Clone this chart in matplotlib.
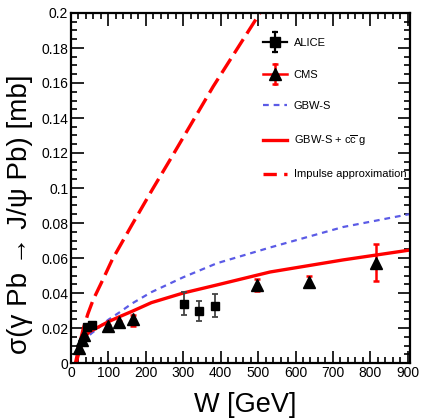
import matplotlib
matplotlib.use("Agg")
import matplotlib.pyplot as plt
from matplotlib.ticker import MultipleLocator, FuncFormatter
from matplotlib.lines import Line2D
from matplotlib.legend_handler import HandlerBase

plt.rcParams['font.family'] = ['Liberation Sans', 'DejaVu Sans']
plt.rcParams['mathtext.fontset'] = 'custom'
plt.rcParams['mathtext.rm'] = 'Liberation Sans'
plt.rcParams['mathtext.it'] = 'Liberation Sans:italic'

# ALICE data
alice_W = [44, 55, 302, 342, 385]
alice_s = [0.0206, 0.0220, 0.0340, 0.0297, 0.0328]
alice_err = [0.0012, 0.0012, 0.0068, 0.0058, 0.0065]

# CMS data
cms_W = [21, 30, 35, 99, 128, 166, 497, 636, 815]
cms_s = [0.0086, 0.0130, 0.0160, 0.0210, 0.0232, 0.0250, 0.0443, 0.0463, 0.0570]
cms_err_lo = [0.0008, 0.0008, 0.0008, 0.0008, 0.0008, 0.0040, 0.0033, 0.0029, 0.0100]
cms_err_hi = [0.0008, 0.0008, 0.0008, 0.0008, 0.0008, 0.0025, 0.0037, 0.0034, 0.0110]

# GBW-S
gbw_W = [20, 30, 40, 55, 70, 99, 130, 163, 215, 300, 390, 532, 727, 920]
gbw_s = [0.006, 0.011, 0.014, 0.017, 0.0195, 0.0246, 0.029, 0.034, 0.0405, 0.049, 0.057, 0.066, 0.0777, 0.0857]

# GBW-S + c cbar g
ccg_W = [15, 25, 37, 50, 64, 99, 130, 163, 215, 300, 390, 532, 727, 920]
ccg_s = [0.001, 0.009, 0.015, 0.018, 0.0195, 0.0235, 0.0265, 0.0295, 0.0345, 0.040, 0.0446, 0.052, 0.0589, 0.065]

# Impulse approximation
ia_W = [12, 20, 32, 45, 59, 86, 110, 163, 217, 270, 380, 505, 560]
ia_s = [0.0, 0.008, 0.019, 0.028, 0.036, 0.048, 0.059, 0.079, 0.099, 0.118, 0.158, 0.200, 0.218]

legend_labels = ['ALICE', 'CMS', 'GBW-S', r'GBW-S + c$\overline{\mathrm{c}}$ g', 'Impulse approximation']


class ErrHandler(HandlerBase):
    def __init__(self, marker, ms, ecolor, lw):
        super().__init__()
        self.marker, self.ms, self.ecolor, self.lw = marker, ms, ecolor, lw

    def create_artists(self, legend, orig, xd, yd, w, h, fs, trans):
        cx = w / 2 - xd
        cy = h / 2 - yd
        half = 10 * 72 / 100.0  # points
        arts = [
            Line2D([-xd, w - xd], [cy, cy], color=self.ecolor, lw=self.lw),
            Line2D([cx, cx], [cy - half, cy + half], color=self.ecolor, lw=self.lw),
            Line2D([cx], [cy - half], marker='_', ms=5, mew=self.lw, color=self.ecolor),
            Line2D([cx], [cy + half], marker='_', ms=5, mew=self.lw, color=self.ecolor),
            Line2D([cx], [cy], marker=self.marker, ms=self.ms, color='black', ls='none'),
        ]
        for a in arts:
            a.set_transform(trans)
        return arts


fig = plt.figure(figsize=(4.21, 4.19), dpi=100)
ax = fig.add_axes([71/421, 1-363/419, (410-71)/421, 350/419])

ax.plot(ia_W, ia_s, color='#ff0000', lw=2.4, dashes=(5, 2), zorder=2)
ax.plot(gbw_W, gbw_s, color='#5b5be6', lw=1.6, dashes=(2.6, 2.2), zorder=2)
ax.plot(ccg_W, ccg_s, color='#ff0000', lw=2.4, zorder=2)

ax.errorbar(alice_W, alice_s, yerr=alice_err, fmt='s', color='black', ecolor='#444444',
            ms=6, elinewidth=1.3, capsize=2.5, capthick=1.3, zorder=4)
ax.errorbar(cms_W, cms_s, yerr=[cms_err_lo, cms_err_hi], fmt='^', mfc='black', mec='black',
            ecolor='#ff0000', ms=8, elinewidth=1.8, capsize=2.5, capthick=1.8, zorder=3)

h_alice = Line2D([], [])
h_cms = Line2D([], [])
h_gbw = Line2D([], [], color='#5b5be6', lw=1.6, dashes=(2.6, 2.2))
h_ccg = Line2D([], [], color='#ff0000', lw=2.4)
h_ia = Line2D([], [], color='#ff0000', lw=2.4, dashes=(4, 2.2))

leg = ax.legend([h_alice, h_cms, h_gbw, h_ccg, h_ia], legend_labels,
                handler_map={h_alice: ErrHandler('s', 7, 'black', 1.6),
                             h_cms: ErrHandler('^', 8, '#ff0000', 1.8)},
                loc='upper left', bbox_to_anchor=(263/421, 1-38/419), bbox_transform=fig.transFigure,
                frameon=False, fontsize=8, handlelength=2.2, handletextpad=0.55,
                labelspacing=1.95, borderaxespad=0, borderpad=0)

ax.set_xlim(0, 906)
ax.set_ylim(0, 0.2)
ax.xaxis.set_major_locator(MultipleLocator(100))
ax.xaxis.set_minor_locator(MultipleLocator(20))
ax.yaxis.set_major_locator(MultipleLocator(0.02))
ax.yaxis.set_minor_locator(MultipleLocator(0.005))
ax.yaxis.set_major_formatter(FuncFormatter(lambda v, p: '%g' % round(v, 4)))
ax.tick_params(which='both', direction='in', top=True, right=True, labelsize=10, width=1.2, pad=2)
ax.tick_params(which='major', length=9)
ax.tick_params(which='minor', length=4.5)
for s in ax.spines.values():
    s.set_linewidth(1.6)

fig.text(20/421, 1-214/419, r'σ(γ Pb → J/ψ Pb) [mb]', rotation=90, ha='center', va='center', fontsize=20)
fig.text(245/421, 1-405/419, 'W [GeV]', ha='center', va='center', fontsize=19.5)

fig.savefig('out.png', dpi=100)
